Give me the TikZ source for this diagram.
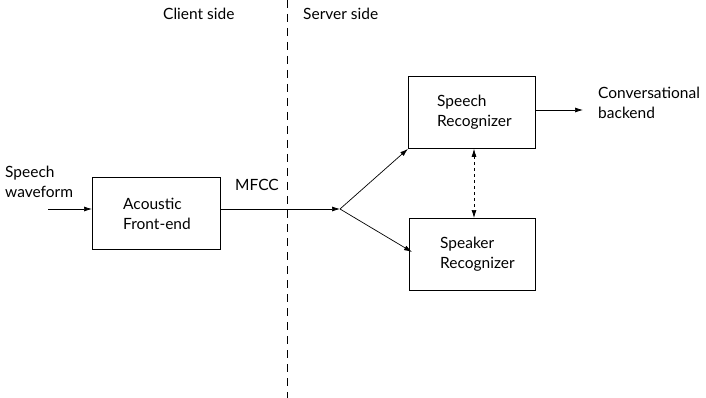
\documentclass[tikz,border=0pt]{standalone}
\usepackage{fontspec}
\setmainfont{Lato}
\usetikzlibrary{arrows.meta}
\begin{document}
\begin{tikzpicture}[x=1pt,y=-1pt,
  boxs/.style={draw,line width=0.8pt,minimum height=72pt,inner sep=0pt,anchor=north west},
  lbl/.style={font=\fontsize{15.5}{20}\selectfont,align=left,inner sep=0pt,anchor=west},
  tip/.tip={Latex[length=8pt,width=5pt]},
  arr/.style={-tip,line width=0.7pt}]
\useasboundingbox (0,0) rectangle (706,398);
\node[boxs,minimum width=128pt] (afe) at (92,177) {};
\node[lbl] (afet) at (123,214) {Acoustic\\Front-end};
\node[boxs,minimum width=127pt] (sr) at (408,76) {};
\node[lbl] (srt) at (437,112) {Speech\\Recognizer};
\node[boxs,minimum width=126pt] (spk) at (409,218) {};
\node[lbl] (spkt) at (440,254) {Speaker\\Recognizer};
\coordinate (in) at (48,209);
\coordinate (split) at (340,209);
\coordinate (out) at (583,110);
\coordinate (spkin) at (412,252);
\node[lbl] (sw) at (5,182) {Speech\\waveform};
\node[lbl] (cb) at (598,103) {Conversational\\backend};
\node[lbl] (mfcc) at (235,185) {MFCC};
\node[lbl] (cs) at (163,14) {Client side};
\node[lbl] (ss) at (303,14) {Server side};
\coordinate (dtop) at (287,0);
\coordinate (dbot) at (287,398);
\draw[line width=0.8pt,dash pattern=on 8pt off 6pt] (dtop) -- (dbot);
\draw[arr] (in) -- (afe.west |- in);
\draw[arr] (afe.east |- split) -- (split);
\draw[arr] (split) -- (sr.south west);
\draw[arr] (split) -- (spkin);
\draw[arr] (sr.east |- out) -- (out);
\draw[tip-tip,dashed,line width=0.7pt] (sr.south -| 474,0) -- (spk.north -| 474,0);
\end{tikzpicture}
\end{document}
